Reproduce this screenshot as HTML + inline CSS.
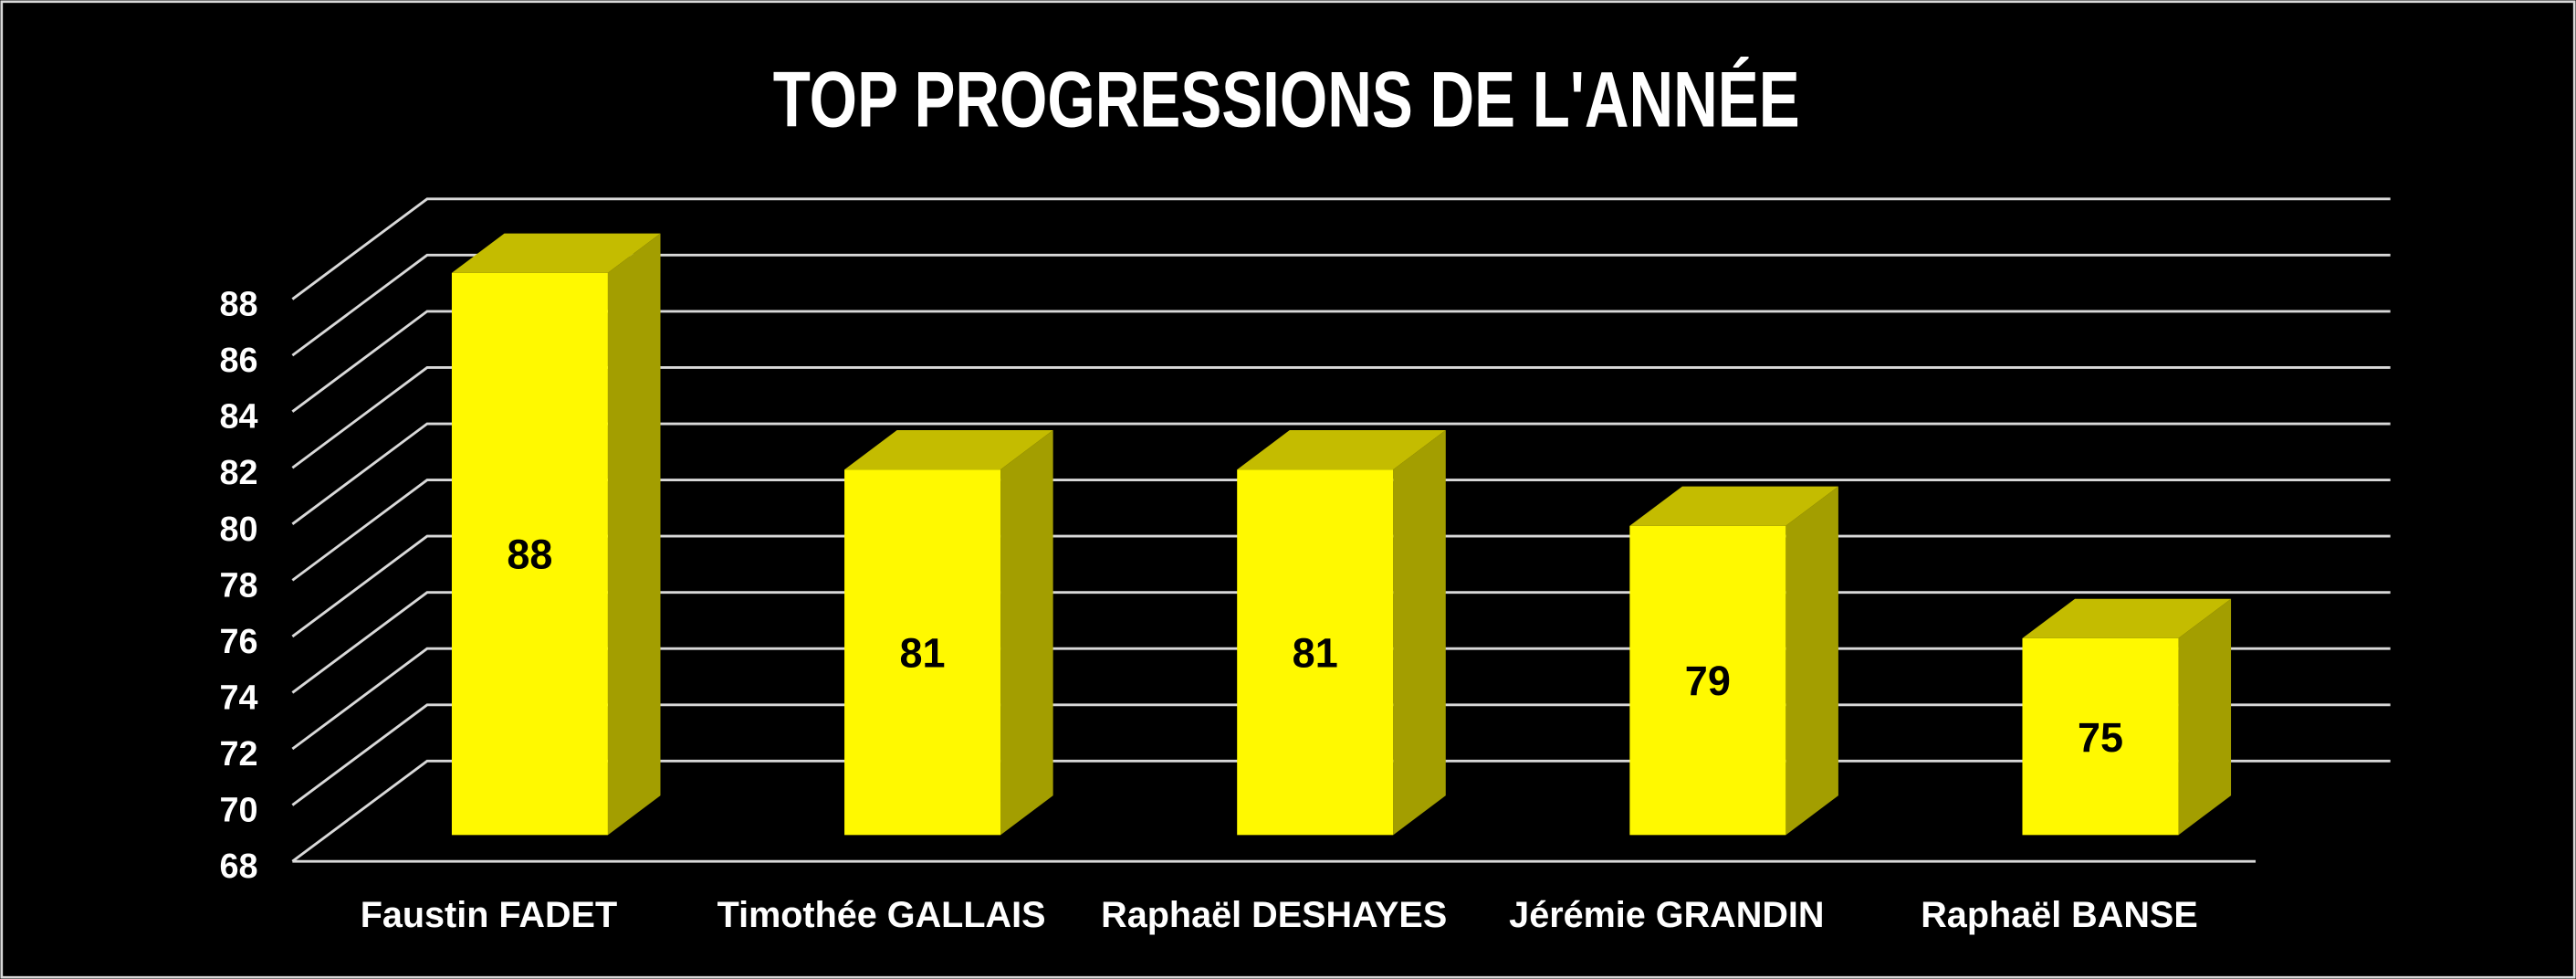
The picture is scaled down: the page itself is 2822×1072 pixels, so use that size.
<!DOCTYPE html>
<html><head><meta charset="utf-8"><style>
html,body{margin:0;padding:0;background:#000;}
svg{display:block;}
</style></head><body>
<svg id="chart" width="2822" height="1072" viewBox="0 0 1568 595.6" preserveAspectRatio="none" xmlns="http://www.w3.org/2000/svg">
<rect x="0" y="0" width="1568" height="595.6" fill="#000"/>
<rect x="1" y="1" width="1566" height="593.6" fill="none" stroke="#d9d9d9" stroke-width="1.5"/>
<text x="783" y="77" text-anchor="middle" textLength="625" lengthAdjust="spacingAndGlyphs" font-family="'Liberation Sans Narrow','Liberation Sans',sans-serif" font-weight="bold" font-size="48" fill="#fff">TOP PROGRESSIONS DE L'ANNÉE</text>
<g id="grid"></g>
<g id="bars"></g>
<g id="labels"></g>
</svg>
<script>
const categories = ["Faustin FADET","Timothée GALLAIS","Raphaël DESHAYES","Jérémie GRANDIN","Raphaël BANSE"];
const values = [88,81,81,79,75];
const yTicks = [68,70,72,74,76,78,80,82,84,86,88];

const NS="http://www.w3.org/2000/svg";
const yMin=68, yMax=88;
const floorY=524, unitPx=17.1;
const x0=178, x1=1373;
const depthDX=82, depthDY=-61;
function yFront(v){return floorY-(v-yMin)*unitPx;}
function mk(tag,attrs,parent){const e=document.createElementNS(NS,tag);for(const k in attrs)e.setAttribute(k,attrs[k]);parent.appendChild(e);return e;}
const grid=document.getElementById('grid'), bars=document.getElementById('bars'), labels=document.getElementById('labels');
const gridStroke="#d9d9d9";

yTicks.forEach(function(t){
  const yf=yFront(t);
  const pl=mk('polyline',{points:x0+','+yf+' '+(x0+depthDX)+','+(yf+depthDY)+' '+(x1+depthDX)+','+(yf+depthDY),fill:'none',stroke:gridStroke,'stroke-width':1.6},grid);
  
  
  const tx=mk('text',{x:157,y:yf+10,'text-anchor':'end','font-family':"'Liberation Sans',sans-serif",'font-weight':'bold','font-size':21,fill:'#fff'},labels);
  tx.textContent=t;
  
  
});
const fl=mk('line',{x1:x0,y1:floorY,x2:x1,y2:floorY,stroke:gridStroke,'stroke-width':1.6},grid);



const slot=(x1-x0)/categories.length;
const barW=95, bdx=32, bdy=-24, barBottom=508;
categories.forEach(function(c,i){
  const v=values[i];
  const left=x0+slot*i+(slot-barW)/2+25;
  const bottom=barBottom;
  const top=bottom-(v-yMin)*unitPx;
  const g=mk('g',{},bars);
  
  
  const side=mk('polygon',{points:(left+barW)+','+top+' '+(left+barW+bdx)+','+(top+bdy)+' '+(left+barW+bdx)+','+(bottom+bdy)+' '+(left+barW)+','+bottom,fill:'#a39e00'},g);
  
  
  const tp=mk('polygon',{points:left+','+top+' '+(left+bdx)+','+(top+bdy)+' '+(left+barW+bdx)+','+(top+bdy)+' '+(left+barW)+','+top,fill:'#c4bc00'},g);
  
  
  const fr=mk('rect',{x:left,y:top,width:barW,height:bottom-top,fill:'#fff900'},g);
  
  
  const vl=mk('text',{x:left+barW/2,y:(top+bottom)/2+9,'text-anchor':'middle','font-family':"'Liberation Sans',sans-serif",'font-weight':'bold','font-size':25,fill:'#000'},g);
  vl.textContent=v;
  
  
  const cl=mk('text',{x:x0+slot*(i+0.5),y:564,'text-anchor':'middle','font-family':"'Liberation Sans',sans-serif",'font-weight':'bold','font-size':22,fill:'#fff'},labels);
  cl.textContent=c;
  
  
});
</script>
</body></html>
